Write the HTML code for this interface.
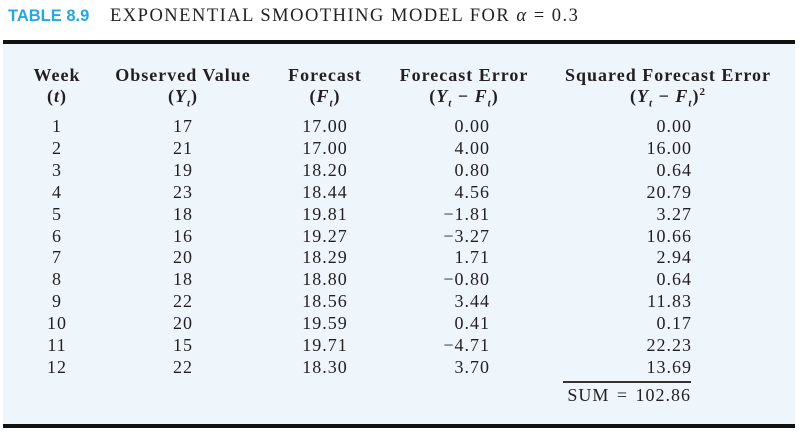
<!DOCTYPE html>
<html><head><meta charset="utf-8"><style>
body{margin:0;width:812px;height:434px;background:#fff;position:relative;overflow:hidden;font-family:"Liberation Serif",serif;color:#231f20}
.t{position:absolute;font-size:18px;line-height:18px;white-space:nowrap;letter-spacing:1px}
.c{transform:translateX(-50%)}
.r{transform:translateX(-100%)}
b{font-weight:bold}
sub,sup{font-size:11px;line-height:0}
</style></head><body>
<div class="t" style="left:8px;top:7px;font-family:'Liberation Sans',sans-serif;font-weight:bold;color:#27a7df;font-size:16.5px;letter-spacing:0">TABLE 8.9</div>
<div class="t" style="left:110px;top:7px;font-size:18.5px;letter-spacing:1.5px">EXPONENTIAL SMOOTHING MODEL FOR <i>α</i> = 0.3</div>
<div style="position:absolute;left:3px;top:44px;width:792px;height:380px;background:#eef6fc"></div>
<div style="position:absolute;left:3px;top:40px;width:792px;height:4px;background:#111"></div>
<div style="position:absolute;left:3px;top:424px;width:792px;height:4px;background:#111"></div>
<div class="t c" style="left:57px;top:66px"><b>Week</b></div>
<div class="t c" style="left:57px;top:87px"><b>(<i>t</i>)</b></div>
<div class="t c" style="left:183px;top:66px"><b>Observed Value</b></div>
<div class="t c" style="left:183px;top:87px"><b>(<i>Y<sub>t</sub></i>)</b></div>
<div class="t c" style="left:325px;top:66px"><b>Forecast</b></div>
<div class="t c" style="left:325px;top:87px"><b>(<i>F<sub>t</sub></i>)</b></div>
<div class="t c" style="left:464px;top:66px"><b>Forecast Error</b></div>
<div class="t c" style="left:464px;top:87px"><b>(<i>Y<sub>t</sub></i> − <i>F<sub>t</sub></i>)</b></div>
<div class="t c" style="left:668px;top:66px"><b>Squared Forecast Error</b></div>
<div class="t c" style="left:668px;top:87px"><b>(<i>Y<sub>t</sub></i> − <i>F<sub>t</sub></i>)<sup>2</sup></b></div>
<div id="rows"></div>
<div style="position:absolute;left:563px;top:381px;width:128px;height:1.5px;background:#333"></div>
<div class="t r" style="left:691px;top:386px;word-spacing:2px">SUM = 102.86</div>
<script>
var d=[[1,17,"17.00","0.00","0.00"],[2,21,"17.00","4.00","16.00"],[3,19,"18.20","0.80","0.64"],[4,23,"18.44","4.56","20.79"],[5,18,"19.81","−1.81","3.27"],[6,16,"19.27","−3.27","10.66"],[7,20,"18.29","1.71","2.94"],[8,18,"18.80","−0.80","0.64"],[9,22,"18.56","3.44","11.83"],[10,20,"19.59","0.41","0.17"],[11,15,"19.71","−4.71","22.23"],[12,22,"18.30","3.70","13.69"]];
var h="";d.forEach(function(r,i){var y=117+i*21.9;
h+='<div class="t c" style="left:57px;top:'+y+'px">'+r[0]+'</div>';
h+='<div class="t c" style="left:183px;top:'+y+'px">'+r[1]+'</div>';
h+='<div class="t c" style="left:325px;top:'+y+'px">'+r[2]+'</div>';
h+='<div class="t r" style="left:490px;top:'+y+'px">'+r[3]+'</div>';
h+='<div class="t r" style="left:692px;top:'+y+'px">'+r[4]+'</div>';});
document.getElementById("rows").innerHTML=h;
</script>
</body></html>
